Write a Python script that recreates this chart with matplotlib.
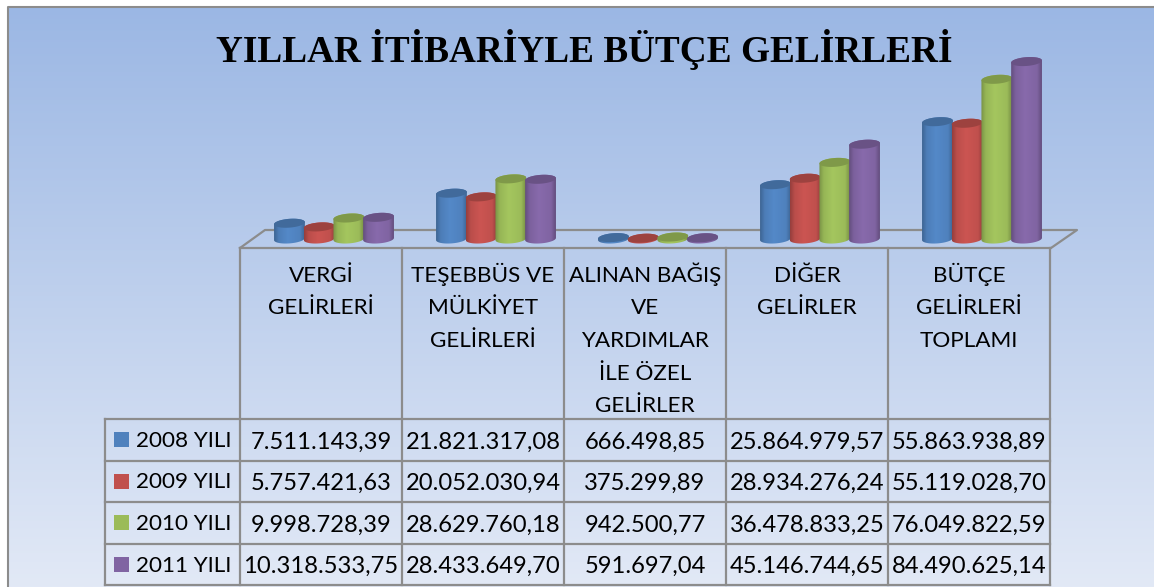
import numpy as np
import matplotlib
matplotlib.use("Agg")
import matplotlib.pyplot as plt
from matplotlib.patches import Polygon, Rectangle
from matplotlib.path import Path

# Data
title = "YILLAR İTİBARİYLE BÜTÇE GELİRLERİ"
categories = [
    ["VERGİ", "GELİRLERİ"],
    ["TEŞEBBÜS VE", "MÜLKİYET", "GELİRLERİ"],
    ["ALINAN BAĞIŞ", "VE", "YARDIMLAR", "İLE ÖZEL", "GELİRLER"],
    ["DİĞER", "GELİRLER"],
    ["BÜTÇE", "GELİRLERİ", "TOPLAMI"],
]
years = ["2008 YILI", "2009 YILI", "2010 YILI", "2011 YILI"]
y2008 = [7511143.39, 21821317.08, 666498.85, 25864979.57, 55863938.89]
y2009 = [5757421.63, 20052030.94, 375299.89, 28934276.24, 55119028.70]
y2010 = [9998728.39, 28629760.18, 942500.77, 36478833.25, 76049822.59]
y2011 = [10318533.75, 28433649.70, 591697.04, 45146744.65, 84490625.14]
series = [y2008, y2009, y2010, y2011]
colors = ["#4F81BD", "#C0504D", "#9BBB59", "#8064A2"]

W, H = 1154, 587
LINE = "#8C8C8C"


def tr_number(v):
    s = f"{v:,.2f}"
    return s.replace(",", "#").replace(".", ",").replace("#", ".")


fig = plt.figure(figsize=(W / 100, H / 100), dpi=100, facecolor="white")

# background gradient and everything positioned in pixels
bg = fig.add_axes([0, 0, 1, 1])
bg.set_xlim(0, W)
bg.set_ylim(H, 0)
bg.axis("off")
top_col = np.array([155, 183, 228]) / 255
bot_col = np.array([226, 233, 246]) / 255
t = np.linspace(0, 1, 256)[:, None, None]
grad = top_col[None, None, :] * (1 - t) + bot_col[None, None, :] * t
bg.imshow(grad, extent=[8, W, H, 6], aspect="auto", zorder=0)
bg.set_xlim(0, W)
bg.set_ylim(H, 0)
bg.plot([7.5, 7.5, W], [H, 6.5, 6.5], color=LINE, lw=1.5, zorder=1)

# floor of the 3d chart
bg.plot([240, 265, 1077, 1051], [248, 230, 230, 248], color=LINE, lw=1.6, zorder=1)

# table grid
col_x = [240, 402, 564, 726, 888, 1050]
row_y = [419, 461, 502, 544, 585]
for x in col_x:
    bg.plot([x, x], [248, 585], color=LINE, lw=1.6, zorder=1)
bg.plot([240, 1050], [248, 248], color=LINE, lw=1.6, zorder=1)
bg.plot([105, 105], [419, 585], color=LINE, lw=1.6, zorder=1)
for y in row_y:
    bg.plot([105, 1050], [y, y], color=LINE, lw=1.6, zorder=1)

bg.text(584, 49, title, family="Liberation Serif", weight="bold", fontsize=26.8,
        ha="center", va="center", color="black")

for i, lines in enumerate(categories):
    cx = (col_x[i] + col_x[i + 1]) / 2
    for j, line in enumerate(lines):
        bg.text(cx, 282 + 32.5 * j, line, family="Lato", fontsize=16.2,
                ha="center", va="baseline", color="black")

for r, name in enumerate(years):
    cy = (row_y[r] + row_y[r + 1]) / 2
    bg.add_patch(Rectangle((114, cy - 8), 15, 15, facecolor=colors[r], edgecolor="none"))
    bg.text(136, cy + 7, name, family="Lato", fontsize=16.2, ha="left", va="baseline", color="black")
    for i in range(5):
        cx = (col_x[i] + col_x[i + 1]) / 2
        bg.text(cx, cy + 8.5, tr_number(series[r][i]), family="Lato", fontsize=17.1,
                ha="center", va="baseline", color="black")

# bars, on their own axes laid over the figure
BASE_PX, PX_PER_UNIT = 239, 2.1e-6
GROUP_X0, GROUP_STEP = 334, 162
ax = fig.add_axes([0, 0, 1, 1])
ax.patch.set_alpha(0)
ax.axis("off")
xlim = ((0 - GROUP_X0) / GROUP_STEP, (W - GROUP_X0) / GROUP_STEP)
ylim = ((BASE_PX - H) / PX_PER_UNIT, BASE_PX / PX_PER_UNIT)

bar_step = 29.7 / GROUP_STEP
bar_w = 30.8 / GROUP_STEP
ry = 4.4 / PX_PER_UNIT
tilt = 1.1 / PX_PER_UNIT
theta = np.linspace(0, 2 * np.pi, 61)


def ellipse(cx, cy):
    return np.column_stack([cx + bar_w / 2 * np.cos(theta),
                            cy + ry * np.sin(theta) + tilt * np.cos(theta)])


def cylinder(cx, value, color):
    rgb = np.array(matplotlib.colors.to_rgb(color))
    lower = theta[30:]  # lower half, left to right
    upper = theta[:31]  # upper half, right to left
    bottom = np.column_stack([cx + bar_w / 2 * np.cos(lower),
                              ry * np.sin(lower) + tilt * np.cos(lower)])
    top = np.column_stack([cx + bar_w / 2 * np.cos(upper),
                           value + ry * np.sin(upper) + tilt * np.cos(upper)])
    outline = np.vstack([bottom, top, bottom[:1]])
    s = np.linspace(0, 1, 60)
    shade = np.interp(s, [0, 0.15, 0.45, 0.85, 1], [0.78, 0.97, 1.06, 1.0, 0.78])
    img = np.clip(rgb[None, None, :] * shade[None, :, None], 0, 1)
    im = ax.imshow(img, extent=[cx - bar_w / 2, cx + bar_w / 2, -2 * ry, value + 2 * ry],
                   aspect="auto", zorder=3, interpolation="bilinear")
    im.set_clip_path(Path(outline), ax.transData)
    ax.add_patch(Polygon(ellipse(cx, value), closed=True, facecolor=rgb * 0.82,
                         edgecolor="none", zorder=3))


for s_i, vals in enumerate(series):
    for g, v in enumerate(vals):
        cylinder(g + (s_i - 1.5) * bar_step, v, colors[s_i])

ax.set_xlim(xlim)
ax.set_ylim(ylim)

fig.savefig("out.png", dpi=100)
